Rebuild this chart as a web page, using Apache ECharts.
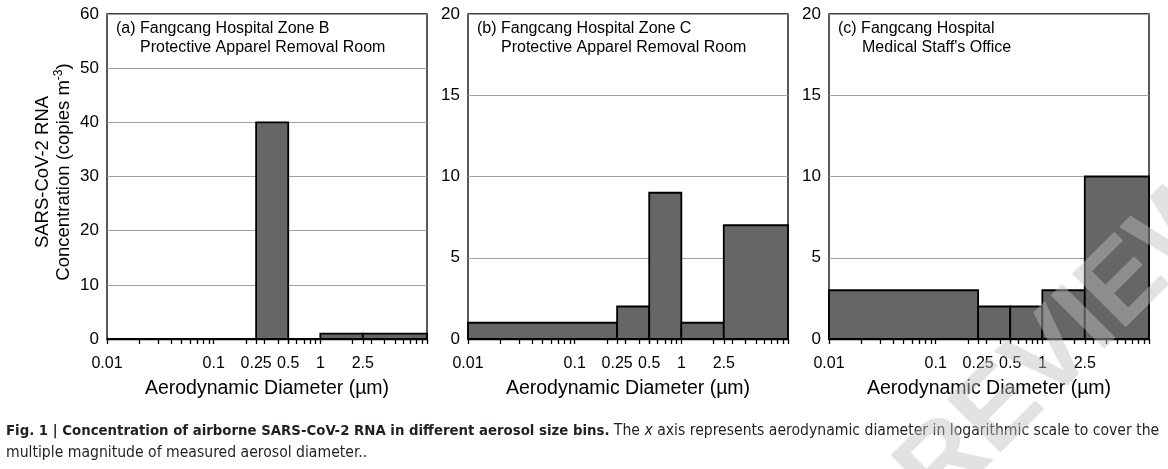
<!DOCTYPE html>
<html><head><meta charset="utf-8">
<script src="https://cdn.jsdelivr.net/npm/echarts@6/dist/echarts.min.js"></script>
<style>html,body{margin:0;padding:0;background:#fff}#c{width:1168px;height:469px}</style>
</head><body><div id="c"></div>
<script>
// ---- data ----
const binEdges = [0.01, 0.25, 0.5, 1, 2.5, 10];
const zoneB = [0, 40, 0, 1, 1];
const zoneC = [1, 2, 9, 1, 7];
const office = [3, 2, 2, 3, 10];
const xTickLabels = [0.01, 0.1, 0.25, 0.5, 1, 2.5];
const yMaxes = [60, 20, 20];
const ySteps = [10, 5, 5];
const titleLine1 = ['(a) Fangcang Hospital Zone B', '(b) Fangcang Hospital Zone C', '(c) Fangcang Hospital'];
const titleLine2 = ['Protective Apparel Removal Room', 'Protective Apparel Removal Room', "Medical Staff's Office"];
const xName = 'Aerodynamic Diameter (\u00b5m)';
const captionBold = 'Fig. 1 | Concentration of airborne SARS-CoV-2 RNA in different aerosol size bins.';
const captionRest1a = 'The ';
const captionItal = 'x';
const captionRest1b = ' axis represents aerodynamic diameter in logarithmic scale to cover the';
const captionLine2 = 'multiple magnitude of measured aerosol diameter..';

// ---- build ----
const seriesVals = [zoneB, zoneC, office];
const minorTicks = [];
[0.01, 0.1, 1].forEach(d => { for (let k = 1; k <= 9; k++) minorTicks.push(+(d * k).toPrecision(3)); });
const tickVals = minorTicks.concat([0.25, 0.5, 2.5, 10]).sort((a, b) => a - b);

const FONT = 'Liberation Sans, Arial, sans-serif';
const lefts = [107, 468, 829];
const W = 320, TOP = 14, H = 325;

const grids = [], xAxes = [], yAxes = [], series = [], graphics = [];
lefts.forEach((L, i) => {
  grids.push({ left: L, top: TOP, width: W, height: H, show: true, borderColor: '#000', borderWidth: 1.3, backgroundColor: 'transparent' });
  xAxes.push({
    type: 'log', logBase: 10, min: 0.01, max: 10, gridIndex: i,
    name: xName, nameLocation: 'middle', nameGap: 40,
    nameTextStyle: { fontFamily: FONT, fontSize: 19.5, color: '#000' },
    axisLine: { show: true, lineStyle: { color: '#000', width: 1.3 } },
    axisTick: { show: true, inside: false, length: 5, customValues: tickVals, lineStyle: { color: '#000', width: 1.3 } },
    minorTick: { show: false },
    splitLine: { show: false },
    axisLabel: {
      customValues: xTickLabels, margin: 17, fontFamily: FONT, fontSize: 16, color: '#000',
      formatter: v => String(+(+v).toPrecision(3))
    }
  });
  yAxes.push({
    type: 'value', min: 0, max: yMaxes[i], interval: ySteps[i], gridIndex: i,
    axisLine: { show: false }, axisTick: { show: false },
    axisLabel: { margin: 8, fontFamily: FONT, fontSize: 17, color: '#000' },
    splitLine: { show: true, lineStyle: { color: '#a0a0a0', width: 1 } }
  });
  const data = seriesVals[i].map((v, j) => [binEdges[j], binEdges[j + 1], v]);
  series.push({
    type: 'custom', xAxisIndex: i, yAxisIndex: i, data: data,
    encode: { x: [0, 1], y: 2 },
    renderItem: (params, api) => {
      const p0 = api.coord([api.value(0), api.value(2)]);
      const p1 = api.coord([api.value(1), 0]);
      return {
        type: 'rect',
        shape: { x: p0[0], y: p0[1], width: p1[0] - p0[0], height: p1[1] - p0[1] },
        style: { fill: '#666666', stroke: '#000', lineWidth: 1.8 }
      };
    },
    z: 3
  });
  graphics.push({ type: 'text', left: L + 9, top: 21, style: { text: titleLine1[i], fontFamily: FONT, fontSize: 16, fill: '#000' } });
  graphics.push({ type: 'text', left: L + 33, top: 40, style: { text: titleLine2[i], fontFamily: FONT, fontSize: 16, fill: '#000' } });
});

graphics.push({
  type: 'text', x: 53, y: 172, rotation: Math.PI / 2,
  style: {
    text: 'SARS-CoV-2 RNA\nConcentration (copies m{sup|-3})',
    fontFamily: FONT, fontSize: 18.5, fill: '#000', align: 'center', verticalAlign: 'middle', lineHeight: 21,
    rich: { sup: { fontFamily: FONT, fontSize: 12, verticalAlign: 'top', fill: '#000' } }
  }
});

const CAPF = 'Liberation Sans Narrow, DejaVu Sans Condensed, sans-serif';
graphics.push({
  type: 'text', left: 6, top: 420,
  style: {
    text: '{b|' + captionBold + '} {r|' + captionRest1a + '}{i|' + captionItal + '}{r|' + captionRest1b + '}\n{r|' + captionLine2 + '}',
    fontFamily: CAPF, fontSize: 15.5, fill: '#231f20', lineHeight: 22,
    rich: {
      b: { fontFamily: CAPF, fontSize: 14.8, fontWeight: 'bold', fill: '#231f20', lineHeight: 22 },
      r: { fontFamily: CAPF, fontSize: 15.6, fill: '#231f20', lineHeight: 22 },
      i: { fontFamily: CAPF, fontSize: 15.6, fontStyle: 'italic', fill: '#231f20', lineHeight: 22 }
    }
  }
});

graphics.push({
  type: 'text', x: 1045, y: 365, rotation: Math.PI / 4, z: 100,
  style: { text: 'PREVIEW', fontFamily: FONT, fontSize: 110, fontWeight: 'bold', fill: 'rgba(190,190,190,0.45)', align: 'center', verticalAlign: 'middle' }
});

const chart = echarts.init(document.getElementById('c'), null, { renderer: 'canvas' });
chart.setOption({
  animation: false,
  backgroundColor: '#fff',
  grid: grids, xAxis: xAxes, yAxis: yAxes, series: series,
  graphic: { elements: graphics }
});
</script></body></html>
